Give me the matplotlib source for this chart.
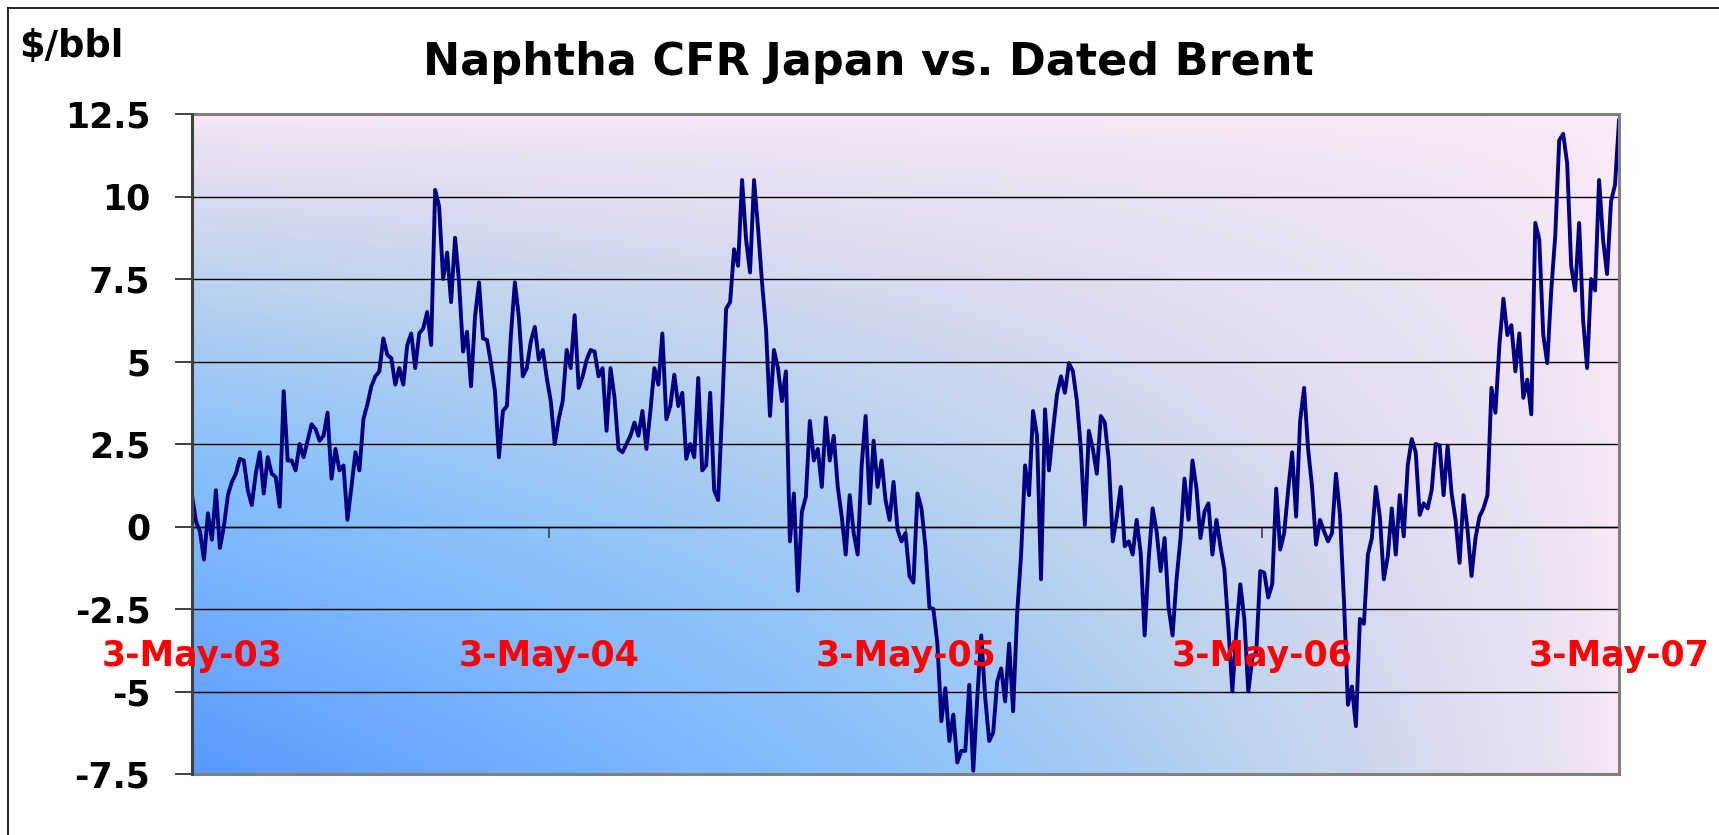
import numpy as np
import pandas as pd
import matplotlib
matplotlib.use("Agg")
import matplotlib.pyplot as plt
from matplotlib.colors import LinearSegmentedColormap
from matplotlib.lines import Line2D
from matplotlib.patches import Rectangle

# ---------------- data ----------------
start_date = "2003-05-03"
end_date = "2007-05-03"

spread = [
    # May-03 .. Apr-04
    0.95, 0.15, -0.15, -1.0, 0.4, -0.4, 1.1, -0.65, 0.0, 0.95,
    1.35, 1.6, 2.05, 2.0, 1.1, 0.65, 1.6, 2.25, 1.0, 2.1,
    1.6, 1.5, 0.6, 4.1, 2.0, 2.0, 1.7, 2.5, 2.1, 2.6,
    3.1, 2.95, 2.6, 2.75, 3.45, 1.45, 2.35, 1.7, 1.85, 0.2,
    1.2, 2.25, 1.7, 3.25, 3.7, 4.25, 4.55, 4.7, 5.7, 5.2,
    5.1, 4.3, 4.8, 4.3, 5.5, 5.85, 4.8, 5.85, 6.0, 6.5,
    5.5,
    # May-04 .. Apr-05
    10.2, 9.7, 7.5, 8.3, 6.8, 8.75, 7.4, 5.3, 5.9,
    4.25, 6.35, 7.4, 5.7, 5.65, 4.95, 4.1, 2.1, 3.5, 3.65,
    5.8, 7.4, 6.35, 4.55, 4.8, 5.6, 6.05, 5.05, 5.35, 4.5,
    3.8, 2.5, 3.25, 3.8, 5.35, 4.8, 6.4, 4.2, 4.55, 5.05,
    5.35, 5.3, 4.55, 4.8, 2.9, 4.8, 3.9, 2.35, 2.25, 2.5,
    2.75, 3.15, 2.75, 3.5, 2.35, 3.5, 4.8, 4.3, 5.85, 3.25,
    3.65, 4.6, 3.65, 4.05, 2.05, 2.5, 2.1, 4.5, 1.7, 1.85,
    4.05, 1.1, 0.8, 3.5, 6.6, 6.8, 8.4, 7.9, 10.5, 8.7,
    7.7, 10.5, 9.05, 7.4, 6.0, 3.35, 5.35, 4.8, 3.8, 4.7,
    -0.45, 1.0, -1.95, 0.45, 0.9, 3.2, 2.0, 2.35, 1.2, 3.3,
    2.0, 2.75, 1.2, 0.3, -0.85, 0.95, -0.2, -0.85, 1.85, 3.35,
    0.7, 2.6, 1.2, 2.0, 0.8, 0.2, 1.35, -0.1, -0.45,
    # May-05 .. Apr-06
    -0.2, -1.5, -1.7, 1.0, 0.55, -0.6, -2.45, -2.5, -3.55, -5.9,
    -4.9, -6.5, -5.7, -7.15, -6.8, -6.8, -4.8, -7.4, -5.2, -3.3,
    -5.2, -6.5, -6.25, -4.7, -4.3, -5.3, -3.55, -5.6, -2.65, -0.85,
    1.85, 0.95, 3.5, 2.75, -1.6, 3.55, 1.7, 2.9, 4.0, 4.55,
    4.05, 4.95, 4.7, 3.8, 2.35, 0.05, 2.9, 2.35, 1.6, 3.35,
    3.15, 2.0, -0.45, 0.3, 1.2, -0.6, -0.45, -0.85, 0.2, -0.8,
    -3.3, -1.0, 0.55, -0.15, -1.35, -0.35, -2.45, -3.3, -1.6, -0.35,
    1.45, 0.2, 2.0, 1.15, -0.35, 0.45, 0.7, -0.85, 0.2, -0.6,
    -1.3, -3.05, -5.0, -3.15, -1.75, -2.8, -5.0, -4.0, -3.8, -1.35,
    -1.4, -2.15, -1.75, 1.15, -0.7, -0.2, 1.1, 2.25, 0.3, 3.2,
    4.2, 2.35, 1.2, -0.55, 0.2, -0.15, -0.45, -0.2, 1.6, 0.35,
    -2.25, -5.4, -4.85, -6.05, -2.8, -2.95, -0.85, -0.35,
    # May-06 .. May-07
    1.2, 0.3, -1.6, -0.9, 0.55, -0.85, 0.95, -0.3, 1.85, 2.65,
    2.25, 0.35, 0.7, 0.55, 1.1, 2.5, 2.45, 0.95, 2.45, 1.0,
    0.2, -1.1, 0.95, -0.1, -1.5, -0.35, 0.3, 0.55, 0.95, 4.2,
    3.45, 5.5, 6.9, 5.8, 6.1, 4.7, 5.85, 3.9, 4.45, 3.4,
    9.2, 8.7, 5.8, 4.95, 7.15, 8.8, 11.7, 11.9, 11.0, 7.9,
    7.15, 9.2, 6.25, 4.8, 7.5, 7.15, 10.5, 8.7, 7.65, 9.85,
    10.35, 12.3,
]

ytick_values = [12.5, 10, 7.5, 5, 2.5, 0, -2.5, -5, -7.5]
ytick_labels = ["12.5", "10", "7.5", "5", "2.5", "0", "-2.5", "-5", "-7.5"]
xtick_dates = ["2003-05-03", "2004-05-03", "2005-05-03", "2006-05-03", "2007-05-03"]
xtick_labels = ["3-May-03", "3-May-04", "3-May-05", "3-May-06", "3-May-07"]

title = "Naphtha CFR Japan vs. Dated Brent"
unit_label = "$/bbl"

# ---------------- figure ----------------
W, H = 1719, 835
fig = plt.figure(figsize=(W / 100, H / 100), dpi=100)
fig.patch.set_facecolor("white")

ax = fig.add_axes([192 / W, 61 / H, 1427 / W, 660 / H])

dates = pd.date_range(start_date, end_date, periods=len(spread))
xmin, xmax = pd.Timestamp(start_date), pd.Timestamp(end_date)

# background gradient (blue bottom-left -> pink top/right)
nx, ny = 400, 200
u = np.linspace(0, 1, nx)[None, :]
v = np.linspace(0, 1, ny)[:, None]
t = np.sqrt((1 - u) * (1 - v))
cmap = LinearSegmentedColormap.from_list(
    "bg",
    [(0.0, "#FCEAF8"), (0.3, "#E2DEF1"), (0.5, "#BDD3EE"),
     (0.7, "#8EC3FA"), (0.85, "#76B1FE"), (1.0, "#5A9AFF")])
ax.imshow(t, cmap=cmap, vmin=0, vmax=1, origin="lower", aspect="auto",
          extent=[0, 1, 0, 1], transform=ax.transAxes, zorder=0,
          interpolation="bilinear")

# gridlines
for yv in ytick_values:
    ax.axhline(yv, color="#000000", lw=1.0, zorder=1)

# data line
ax.plot(dates, spread, color="#000080", lw=2.8, zorder=3)

ax.set_xlim(xmin, xmax)
ax.set_ylim(-7.5, 12.5)

# x axis crossing at zero
ax.spines["bottom"].set_position(("data", 0))
ax.spines["bottom"].set_color("#000000")
ax.spines["bottom"].set_linewidth(1.0)
ax.spines["top"].set_visible(False)
ax.spines["right"].set_visible(False)
ax.spines["left"].set_color("#404040")
ax.spines["left"].set_linewidth(2.2)
ax.spines["left"].set_zorder(5)

ax.set_xticks(pd.to_datetime(xtick_dates))
ax.tick_params(axis="x", direction="out", length=8, width=1.2,
               color="#404040", labelbottom=False)

ax.set_yticks(ytick_values)
ax.set_yticklabels(ytick_labels)
ax.tick_params(axis="y", direction="out", length=12, width=1.4,
               color="#404040", pad=18, labelsize=25)
for lab in ax.get_yticklabels():
    lab.set_fontweight("bold")
    lab.set_family("DejaVu Sans")

# plot-area frame
ax.add_patch(Rectangle((0, 0), 1, 1, transform=ax.transAxes, fill=False,
                       edgecolor="#808080", lw=2.2, zorder=4, clip_on=False))

# date labels (red)
for d, lab in zip(xtick_dates, xtick_labels):
    ax.text(pd.Timestamp(d), -4.24, lab, ha="center", va="baseline",
            color="#FF0000", fontsize=25, fontweight="bold",
            family="DejaVu Sans", zorder=6, clip_on=False)

# title and unit
fig.text(868 / W, 1 - 75 / H, title, ha="center", va="baseline",
         fontsize=32, fontweight="bold", family="DejaVu Sans")
fig.text(19 / W, 1 - 57 / H, unit_label, ha="left", va="baseline",
         fontsize=26.5, fontweight="bold", family="DejaVu Sans")

# chart-area border (left and top visible)
fig.add_artist(Line2D([8 / W, 8 / W], [0, 1 - 8 / H], transform=fig.transFigure,
                      color="#000000", lw=1.2))
fig.add_artist(Line2D([8 / W, 1], [1 - 8 / H, 1 - 8 / H], transform=fig.transFigure,
                      color="#000000", lw=1.2))

fig.savefig("out.png", dpi=100, facecolor="white")
